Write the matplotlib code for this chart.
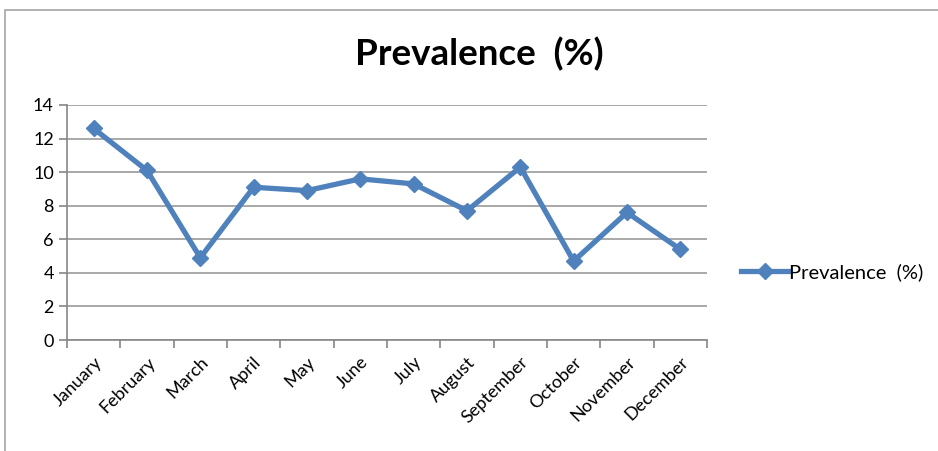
import matplotlib.pyplot as plt
import numpy as np
from matplotlib.patches import Rectangle

months = ['January', 'February', 'March', 'April', 'May', 'June',
          'July', 'August', 'September', 'October', 'November', 'December']
prevalence = [12.6, 10.1, 4.9, 9.1, 8.9, 9.6, 9.3, 7.7, 10.3, 4.7, 7.6, 5.4]
y_ticks = [0, 2, 4, 6, 8, 10, 12, 14]

plt.rcParams['font.family'] = ['Lato', 'DejaVu Sans']

fig = plt.figure(figsize=(9.38, 4.51), dpi=100)
ax = fig.add_axes([0.0714, 0.2461, 0.6823, 0.5211])

# outer chart frame
fig.patches.append(Rectangle((5 / 938, -0.1), 1.2, (451 - 10) / 451 + 0.1,
                             transform=fig.transFigure, fill=False,
                             edgecolor='#a6a6a6', linewidth=1.2))

x = np.arange(len(months))
ax.plot(x, prevalence, color='#4f81bd', linewidth=3.8, marker='D',
        markersize=8, label='Prevalence  (%)')

ax.set_xlim(-0.5, len(months) - 0.5)
ax.set_ylim(0, 14)
ax.set_yticks(y_ticks)
ax.set_xticks(x)
ax.set_xticklabels(months, rotation=45, ha='right', rotation_mode='anchor',
                   fontsize=13)
ax.set_xticks(np.arange(len(months) + 1) - 0.5, minor=True)
ax.tick_params(axis='x', which='major', length=0, pad=10)
ax.tick_params(axis='x', which='minor', length=6, color='#868686', width=1.2)
ax.tick_params(axis='y', length=6, color='#868686', width=1.2, labelsize=13)

ax.grid(axis='y', color='#999999', linewidth=1.2)
ax.set_axisbelow(True)
for side in ['top', 'right']:
    ax.spines[side].set_visible(False)
for side in ['left', 'bottom']:
    ax.spines[side].set_color('#868686')
    ax.spines[side].set_linewidth(1.2)

fig.text(0.511, 0.88, 'Prevalence  (%)', ha='center', va='center',
         fontsize=26.5, fontweight='bold')

ax.legend(loc='center left', bbox_to_anchor=(1.025, 0.29), frameon=False,
          fontsize=14.5, handlelength=2.4, handletextpad=0.0)

fig.savefig('out.png', dpi=100)
